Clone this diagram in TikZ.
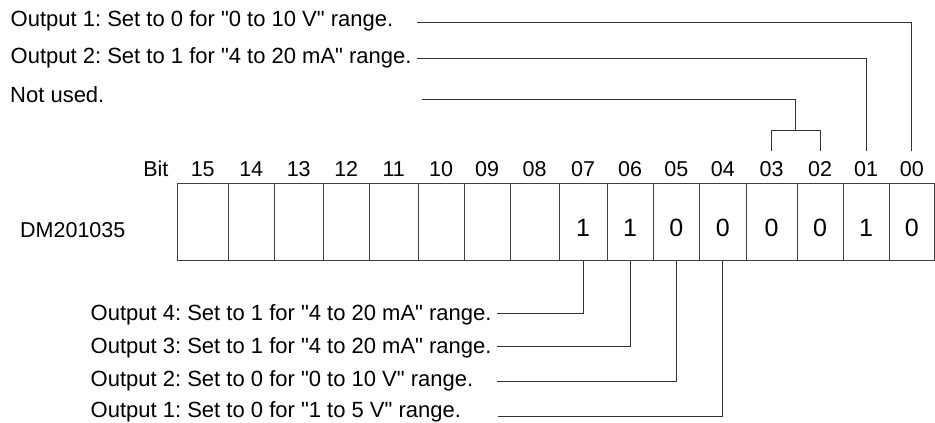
\documentclass[tikz,border=0pt]{standalone}
\usepackage{fontspec}
\newfontfamily\notefont{Liberation Sans}
\usetikzlibrary{calc}
\frenchspacing
\tikzset{
  cellbox/.style={draw=black!75, line width=1pt, minimum height=76.5pt, inner sep=0pt, anchor=south west},
  note/.style={inner sep=0pt, anchor=base west, font=\notefont\fontsize{22}{26}\selectfont},
  bitlabel/.style={inner sep=0pt, anchor=base, font=\notefont\fontsize{21.5}{26}\selectfont},
  bitval/.style={inner sep=0pt, anchor=base, font=\notefont\fontsize{25}{30}\selectfont},
  lead/.style={draw=black!80, line width=0.9pt},
}
\begin{document}
\begin{tikzpicture}[x=1pt,y=-1pt]
  \useasboundingbox (0,0) rectangle (935,423);
  % register DM201035, one cell per bit
  \foreach \bit/\xa/\xb/\val in {15/177/227.5/{},14/227.5/274/{},13/274/322.5/{},12/322.5/369/{},
      11/369/417.5/{},10/417.5/463.5/{},09/463.5/509.5/{},08/509.5/558.5/{},
      07/558.5/606.5/1,06/606.5/652.5/1,05/652.5/699/0,04/699/745.5/0,
      03/745.5/796.5/0,02/796.5/842.5/0,01/842.5/888.5/1,00/888.5/934/0}
  {
    \node[cellbox, minimum width={(\xb-\xa)*1pt}] (c\bit) at (\xa,260.5) {};
    \node[bitlabel] (b\bit) at ([yshift=7pt]c\bit.north) {\bit};
    \node[bitval] (v\bit) at ([yshift=-14.5pt]c\bit.center) {\val};
  }
  \node[bitlabel, anchor=base east] (bitword) at ([xshift=-22pt]b15.base west) {Bit};
  \node[note, font=\notefont\fontsize{21.5}{26}\selectfont] (reg) at (20,237) {DM201035};

  % notes above
  \node[note] (t1) at (10.5,26) {Output 1: Set to 0 for "0 to 10 V" range.};
  \node[note] (t2) at (10.5,63.5) {Output 2: Set to 1 for "4 to 20 mA" range.};
  \node[note] (t3) at (10,102.5) {Not used.};
  \coordinate (lead00) at (417,22.7);
  \coordinate (lead01) at (417,58.5);
  \coordinate (lead32) at (422,99);
  \draw[lead] (lead00) -| ([yshift=31.7pt]c00.north);
  \draw[lead] (lead01) -| ([yshift=31.7pt]c01.north);
  \draw[lead] ([yshift=31.7pt]c03.north) |- ([yshift=52.3pt]c02.north) -- ([yshift=31.7pt]c02.north);
  \coordinate (fork) at ($([yshift=52.3pt]c03.north)!0.5!([yshift=52.3pt]c02.north)$);
  \draw[lead] (lead32) -| (fork);

  % notes below
  \node[note] (n4) at (90.5,320.5) {Output 4: Set to 1 for "4 to 20 mA" range.};
  \node[note] (n3) at (90.5,353) {Output 3: Set to 1 for "4 to 20 mA" range.};
  \node[note] (n2) at (90.5,386) {Output 2: Set to 0 for "0 to 10 V" range.};
  \node[note] (n1) at (90.5,417) {Output 1: Set to 0 for "1 to 5 V" range.};
  \coordinate (lead07) at (497,313);
  \coordinate (lead06) at (497,346.7);
  \coordinate (lead05) at (497,381.5);
  \coordinate (lead04) at (498,416);
  \foreach \bit in {07,06,05,04}
    \draw[lead] (lead\bit) -| (c\bit.south);
\end{tikzpicture}
\end{document}
